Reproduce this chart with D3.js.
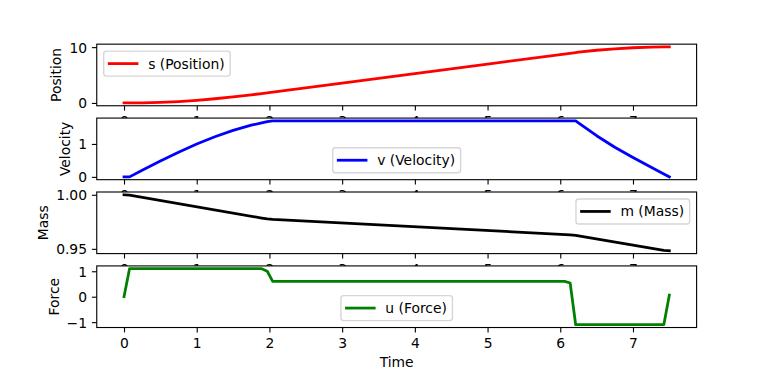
<!DOCTYPE html>
<html><head><meta charset="utf-8">
<script src="https://cdn.jsdelivr.net/npm/d3@7"></script>
<style>body{margin:0;background:#fff}svg{display:block;font-family:"DejaVu Sans",sans-serif}</style>
</head><body><svg id="c" width="774" height="368"></svg>
<script>
// ---- data ----
const timeSV = [0, 0.076, 0.25, 0.5, 0.75, 1.0, 1.25, 1.5, 1.75, 1.894, 1.970, 2.045, 3, 4, 5, 6, 6.212, 6.25, 6.5, 6.75, 7.0, 7.25, 7.424, 7.5];
const position = [0, 0, 0.017, 0.102, 0.256, 0.475, 0.753, 1.082, 1.454, 1.685, 1.811, 1.938, 3.562, 5.262, 6.962, 8.662, 9.022, 9.085, 9.443, 9.708, 9.89, 9.998, 10.029, 10.032];
const velocity = [0, 0, 0.20, 0.48, 0.75, 1.0, 1.22, 1.41, 1.57, 1.64, 1.68, 1.70, 1.70, 1.70, 1.70, 1.70, 1.70, 1.64, 1.25, 0.90, 0.59, 0.29, 0.09, 0.0];
const timeM = [0, 0.076, 1.894, 1.970, 2.045, 6.136, 6.212, 7.424, 7.5];
const mass = [1.0, 0.9996, 0.9785, 0.9777, 0.9772, 0.9630, 0.9625, 0.9486, 0.9482];
const timeU = [0, 0.076, 1.894, 1.970, 2.045, 6.061, 6.136, 6.212, 7.424, 7.5];
const force = [0, 1.1, 1.1, 1.0, 0.6, 0.6, 0.54, -1.1, -1.1, 0.06];
const xTicks = [0, 1, 2, 3, 4, 5, 6, 7];
const posTicks = [0, 10];
const velTicks = [0, 1];
const massTicks = [0.95, 1.00];
const forceTicks = [-1, 0, 1];
const yLabels = ["Position", "Velocity", "Mass", "Force"];
const legendLabels = ["s (Position)", "v (Velocity)", "m (Mass)", "u (Force)"];
const xLabel = "Time";

// ---- layout ----
const W = 774, H = 368, pt = 100 / 72, fs = 10 * pt;
const L = 0.125 * W, R = 0.9 * W, T = (1 - 0.88) * H, B = (1 - 0.11) * H;
const n = 4, hs = 0.2;
const ph = (B - T) / (n + hs * (n - 1)), gap = ph * hs;
const svg = d3.select("#c");
svg.append("rect").attr("width", W).attr("height", H).attr("fill", "#fff");

function pad(ext) { const d = ext[1] - ext[0]; return [ext[0] - 0.05 * d, ext[1] + 0.05 * d]; }
const x = d3.scaleLinear().domain(pad([0, 7.5])).range([L, R]);

const panels = [
  {t: timeSV, v: position, color: "#ff0000", ticks: posTicks, fmt: d3.format("d"), loc: "ul"},
  {t: timeSV, v: velocity, color: "#0000ff", ticks: velTicks, fmt: d3.format("d"), loc: "lc"},
  {t: timeM, v: mass, color: "#000000", ticks: massTicks, fmt: d3.format(".2f"), loc: "ur"},
  {t: timeU, v: force, color: "#008000", ticks: forceTicks, fmt: d3.format("d"), loc: "lc"}
];

panels.forEach((p, i) => {
  const y0 = T + i * (ph + gap), y1 = y0 + ph;
  const y = d3.scaleLinear().domain(pad(d3.extent(p.v))).range([y1, y0]);
  const g = svg.append("g");
  g.append("rect").attr("x", L).attr("y", y0).attr("width", R - L).attr("height", ph).attr("fill", "#fff");
  const pts = p.t.map((t, k) => [t, p.v[k]]);
  g.append("path").datum(pts)
    .attr("d", d3.line().x(d => x(d[0])).y(d => y(d[1])))
    .attr("fill", "none").attr("stroke", p.color).attr("stroke-width", 2 * pt)
    .attr("stroke-linejoin", "round").attr("stroke-linecap", "square");
  g.append("rect").attr("x", L).attr("y", y0).attr("width", R - L).attr("height", ph)
    .attr("fill", "none").attr("stroke", "#000").attr("stroke-width", 0.8 * pt);
  // x axis
  const gx = g.append("g").attr("transform", `translate(0,${y1})`)
    .call(d3.axisBottom(x).tickValues(xTicks).tickFormat(d3.format("d")).tickSize(3.5 * pt).tickPadding(3.5 * pt));
  gx.select(".domain").remove();
  gx.selectAll("line").attr("stroke-width", 0.8 * pt);
  gx.selectAll("text").attr("font-size", fs).attr("font-family", "DejaVu Sans").attr("fill", "#000").attr("dy", "0.78em");
  // y axis
  const gy = g.append("g").attr("transform", `translate(${L},0)`)
    .call(d3.axisLeft(y).tickValues(p.ticks).tickFormat(p.fmt).tickSize(3.5 * pt).tickPadding(3.5 * pt));
  gy.select(".domain").remove();
  gy.selectAll("line").attr("stroke-width", 0.8 * pt);
  gy.selectAll("text").attr("font-size", fs).attr("font-family", "DejaVu Sans").attr("fill", "#000").attr("dy", "0.36em");
  let minX = Infinity;
  gy.selectAll("text").each(function () { const b = this.getBBox(); minX = Math.min(minX, L + b.x); });
  g.append("text").attr("transform", `translate(${minX - 4 * pt - 2.5},${(y0 + y1) / 2}) rotate(-90)`)
    .attr("text-anchor", "middle").attr("font-size", fs).attr("fill", "#000").text(yLabels[i]);
  // legend
  const lg = g.append("g");
  const txt = lg.append("text").attr("font-size", fs).attr("fill", "#000").text(legendLabels[i]);
  const tw = txt.node().getComputedTextLength();
  const bw = 3.6 * fs + tw, bh = 1.8 * fs, ba = 0.5 * fs;
  let bx, by;
  if (p.loc === "ul") { bx = L + ba; by = y0 + ba; }
  else if (p.loc === "ur") { bx = R - ba - bw; by = y0 + ba; }
  else { bx = (L + R) / 2 - bw / 2; by = y1 - ba - bh; }
  lg.insert("rect", "text").attr("x", bx).attr("y", by).attr("width", bw).attr("height", bh)
    .attr("rx", 0.2 * fs).attr("fill", "#fff").attr("fill-opacity", 0.8)
    .attr("stroke", "#cccccc").attr("stroke-opacity", 0.8).attr("stroke-width", 1 * pt);
  const cy = by + bh / 2;
  lg.insert("line", "text").attr("x1", bx + 0.4 * fs).attr("x2", bx + 2.4 * fs).attr("y1", cy).attr("y2", cy)
    .attr("stroke", p.color).attr("stroke-width", 2 * pt).attr("stroke-linecap", "square");
  txt.attr("x", bx + 3.2 * fs).attr("y", cy + 0.36 * fs);
});

svg.append("text").attr("x", (L + R) / 2).attr("y", 366.5).attr("text-anchor", "middle")
  .attr("font-size", fs).attr("fill", "#000").text(xLabel);
</script></body></html>
